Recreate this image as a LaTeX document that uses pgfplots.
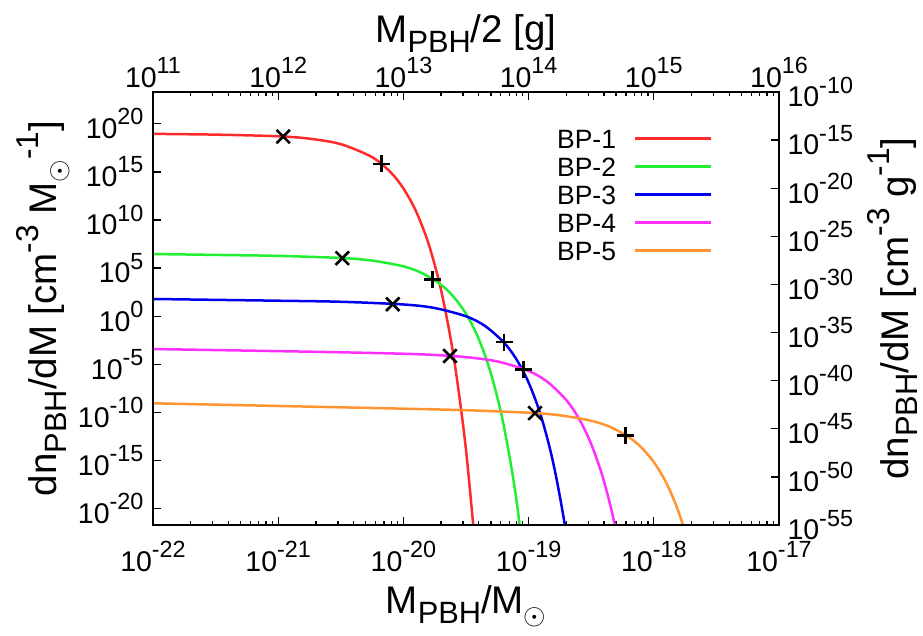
\documentclass[border=0pt]{standalone}
\usepackage{fontspec}
\setmainfont{Liberation Sans}
\usepackage{graphicx}
\usepackage{pgfplots}
\pgfplotsset{compat=1.18}
\definecolor{cR}{HTML}{FF2A2A}
\definecolor{cG}{HTML}{22EE33}
\definecolor{cB}{HTML}{0000EE}
\definecolor{cM}{HTML}{FF30FF}
\definecolor{cO}{HTML}{FF9430}
\newcommand{\gsup}[1]{\raisebox{0.48em}{\scalebox{0.82}{#1}}}
\newcommand{\gsub}[1]{\raisebox{-0.25em}{\scalebox{0.8}{#1}}}
\newcommand{\sun}{\raisebox{-0.02em}{\scalebox{1.45}{$\odot$}}}
\newcommand{\lfont}{\fontsize{38.5}{40}\selectfont}
\begin{document}
\begin{tikzpicture}
\useasboundingbox (-153pt,-110pt) rectangle (770pt,525pt);
\begin{axis}[
  at={(0pt,0pt)}, anchor=south west,
  scale only axis, width=626pt, height=433pt,
  xmin=-22, xmax=-17, ymin=-21.699, ymax=23.301,
  xtick={-22,-21,-20,-19,-18,-17},
  xticklabels={10\gsup{-22},10\gsup{-21},10\gsup{-20},10\gsup{-19},10\gsup{-18},10\gsup{-17}},
  minor xtick={-21.699,-21.523,-21.398,-21.301,-21.222,-21.155,-21.097,-21.046,
    -20.699,-20.523,-20.398,-20.301,-20.222,-20.155,-20.097,-20.046,
    -19.699,-19.523,-19.398,-19.301,-19.222,-19.155,-19.097,-19.046,
    -18.699,-18.523,-18.398,-18.301,-18.222,-18.155,-18.097,-18.046,
    -17.699,-17.523,-17.398,-17.301,-17.222,-17.155,-17.097,-17.046},
  ytick={-20,-15,-10,-5,0,5,10,15,20},
  yticklabels={10\gsup{-20},10\gsup{-15},10\gsup{-10},10\gsup{-5},10\gsup{0},10\gsup{5},10\gsup{10},10\gsup{15},10\gsup{20}},
  xtick pos=left, ytick pos=left,
  tick align=inside,
  major tick length=8pt, minor tick length=4pt,
  every tick/.style={black, line width=1.3pt},
  axis line style={line width=1.6pt},
  ticklabel style={font=\fontsize{28.5}{30}\selectfont},
  xticklabel style={yshift=-13pt},
  yticklabel style={xshift=-6pt},
  every axis x label/.style={at={(axis description cs:0.5,-0.2055)}, anchor=base, font=\lfont},
  every axis y label/.style={at={(axis description cs:-0.1534,0.5)}, rotate=90, anchor=base, font=\lfont},
  xlabel={M\gsub{PBH}/M\gsub{\sun}},
  ylabel={dn\gsub{PBH}/dM [cm\gsup{-3} M\gsub{\sun}\gsup{-1}]},
  title={M\gsub{PBH}/2 [g]},
  every axis title/.style={at={(axis description cs:0.5,1.1132)}, anchor=base, font=\lfont},
  legend style={draw=none, fill=none, at={(axis description cs:0.8941,0.915)}, anchor=north east,
    inner sep=0pt, row sep=9pt, column sep=18pt, font=\fontsize{26.5}{28}\selectfont,
    nodes={inner sep=0pt, text height=19pt, text depth=0pt}},
  legend cell align=right,
  legend plot pos=right,
  legend image code/.code={\draw[#1] (0pt,0pt) -- (76pt,0pt);},
]
\addplot[cR, line width=2.5pt, smooth] coordinates {(-22,18.95) (-21.5,18.87) (-21,18.70) (-20.75,18.45) (-20.5,17.88) (-20.25,16.53) (-20.1,14.93) (-20,13.28) (-19.9,10.93) (-19.8,7.57) (-19.7,2.76) (-19.6,-4.09) (-19.5,-13.9) (-19.4,-27.8)};
\addlegendentry{BP-1}
\addplot[cG, line width=2.5pt, smooth] coordinates {(-22,6.46) (-21.5,6.37) (-21,6.27) (-20.5,6.05) (-20.25,5.78) (-20,5.18) (-19.85,4.47) (-19.7,3.27) (-19.6,2.03) (-19.5,0.25) (-19.4,-2.31) (-19.3,-5.99) (-19.2,-11.27) (-19.1,-18.83) (-19.0,-29.7)};
\addlegendentry{BP-2}
\addplot[cB, line width=2.5pt, smooth] coordinates {(-22,1.79) (-21.5,1.70) (-21,1.61) (-20.5,1.50) (-20,1.22) (-19.75,0.85) (-19.5,-0.01) (-19.35,-1.00) (-19.2,-2.69) (-19.1,-4.42) (-19.0,-6.89) (-18.9,-10.41) (-18.8,-15.44) (-18.7,-22.6) (-18.6,-32.85)};
\addlegendentry{BP-3}
\addplot[cM, line width=2.5pt, smooth] coordinates {(-22,-3.41) (-21,-3.63) (-20.5,-3.75) (-20,-3.90) (-19.75,-4.03) (-19.5,-4.25) (-19.25,-4.70) (-19,-5.69) (-18.85,-6.82) (-18.7,-8.70) (-18.6,-10.60) (-18.5,-13.28) (-18.4,-17.06) (-18.3,-22.38) (-18.2,-29.9)};
\addlegendentry{BP-4}
\addplot[cO, line width=2.5pt, smooth] coordinates {(-22,-9.05) (-21,-9.33) (-20,-9.61) (-19.5,-9.77) (-19,-10.03) (-18.75,-10.30) (-18.5,-10.87) (-18.35,-11.50) (-18.2,-12.56) (-18.1,-13.63) (-18,-15.16) (-17.9,-17.33) (-17.8,-20.41) (-17.7,-24.81) (-17.6,-31.1)};
\addlegendentry{BP-5}
\addplot[only marks, mark=x, mark size=9.5pt, black, line width=2.6pt, forget plot] coordinates {(-20.96,18.67) (-20.488,6.03) (-20.085,1.25) (-19.628,-4.13) (-18.949,-10.07)};
\addplot[only marks, mark=+, mark size=8.5pt, black, line width=2.6pt, forget plot] coordinates {(-20.173,15.82) (-19.766,3.80) (-19.196,-2.70) (-19.042,-5.55) (-18.224,-12.38)};
\end{axis}
\begin{axis}[
  at={(0pt,0pt)}, anchor=south west,
  scale only axis, width=626pt, height=433pt,
  xmin=11, xmax=16, ymin=-55, ymax=-10,
  xtick={11,12,13,14,15,16},
  xticklabels={10\gsup{11},10\gsup{12},10\gsup{13},10\gsup{14},10\gsup{15},10\gsup{16}},
  minor xtick={11.301,11.477,11.602,11.699,11.778,11.845,11.903,11.954,
    12.301,12.477,12.602,12.699,12.778,12.845,12.903,12.954,
    13.301,13.477,13.602,13.699,13.778,13.845,13.903,13.954,
    14.301,14.477,14.602,14.699,14.778,14.845,14.903,14.954,
    15.301,15.477,15.602,15.699,15.778,15.845,15.903,15.954},
  ytick={-55,-50,-45,-40,-35,-30,-25,-20,-15,-10},
  yticklabels={10\gsup{-55},10\gsup{-50},10\gsup{-45},10\gsup{-40},10\gsup{-35},10\gsup{-30},10\gsup{-25},10\gsup{-20},10\gsup{-15},10\gsup{-10}},
  xtick pos=right, ytick pos=right,
  tick align=inside,
  major tick length=8pt, minor tick length=4pt,
  every tick/.style={black, line width=1.3pt},
  axis line style={line width=1.6pt},
  ticklabel style={font=\fontsize{28.5}{30}\selectfont},
  xticklabel style={inner sep=4pt},
  yticklabel style={xshift=5pt},
  every axis y label/.style={at={(axis description cs:1.2061,0.5)}, rotate=90, anchor=base, font=\lfont},
  ylabel={dn\gsub{PBH}/dM [cm\gsup{-3} g\gsup{-1}]},
]
\end{axis}
\end{tikzpicture}
\end{document}
